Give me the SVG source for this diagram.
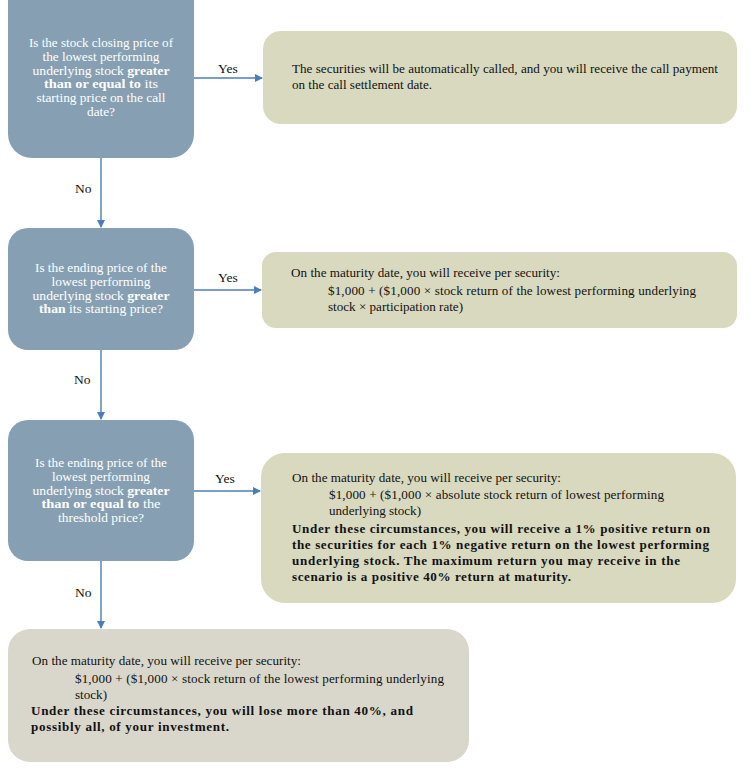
<svg xmlns="http://www.w3.org/2000/svg" width="753" height="776" viewBox="0 0 753 776">
<style>
.q{fill:#869fb3}
.g{fill:#d9d9bf}
.f{fill:#d9d7cb}
.t{font-family:"Liberation Serif",serif;font-size:13.1px;fill:#111}
.w{font-family:"Liberation Serif",serif;font-size:11.6px;fill:#fff;text-anchor:middle}
.b{font-weight:bold}
.c{stroke:#4a7ebb;stroke-width:1.4;fill:none}
.l{font-family:"Liberation Serif",serif;font-size:13.5px;fill:#111}
</style>
<defs>
<marker id="ah" markerWidth="8" markerHeight="8" refX="7" refY="4" orient="auto" markerUnits="userSpaceOnUse">
<path d="M0,0 L8,4 L0,8 z" fill="#4a7ebb"/>
</marker>
</defs>
<rect width="753" height="776" fill="#fff"/>
<g id="connectors">
<path class="c" d="M194,78 H262" marker-end="url(#ah)"/>
<path class="c" d="M194,290 H261" marker-end="url(#ah)"/>
<path class="c" d="M194,491 H260" marker-end="url(#ah)"/>
<path class="c" d="M101,158 V227" marker-end="url(#ah)"/>
<path class="c" d="M101,350 V419" marker-end="url(#ah)"/>
<path class="c" d="M101,561 V628" marker-end="url(#ah)"/>
<text class="l" x="218" y="73">Yes</text>
<text class="l" x="218" y="282">Yes</text>
<text class="l" x="215" y="483">Yes</text>
<text class="l" x="75" y="193">No</text>
<text class="l" x="74" y="384">No</text>
<text class="l" x="75" y="597">No</text>
</g>
<g id="q1">
<rect class="q" x="8" y="-25" width="186" height="183" rx="24"/>
<text class="w" x="101" y="47" textLength="144" lengthAdjust="spacingAndGlyphs">Is the stock closing price of</text>
<text class="w" x="101" y="60.8" textLength="117" lengthAdjust="spacingAndGlyphs">the lowest performing</text>
<text class="w" x="101" y="74.6" textLength="137" lengthAdjust="spacingAndGlyphs">underlying stock <tspan class="b">greater</tspan></text>
<text class="w" x="101" y="88.4" textLength="114" lengthAdjust="spacingAndGlyphs"><tspan class="b">than or equal to</tspan> its</text>
<text class="w" x="101" y="102.2" textLength="129" lengthAdjust="spacingAndGlyphs">starting price on the call</text>
<text class="w" x="101" y="116" textLength="28" lengthAdjust="spacingAndGlyphs">date?</text>
</g>
<g id="a1">
<rect class="g" x="263" y="31" width="474" height="93" rx="18"/>
<text class="t" x="292" y="73" textLength="426">The securities will be automatically called, and you will receive the call payment</text>
<text class="t" x="292" y="89">on the call settlement date.</text>
</g>
<g id="q2">
<rect class="q" x="8" y="228" width="186" height="122" rx="20"/>
<text class="w" x="101" y="272" textLength="132" lengthAdjust="spacingAndGlyphs">Is the ending price of the</text>
<text class="w" x="101" y="285.8" textLength="99" lengthAdjust="spacingAndGlyphs">lowest performing</text>
<text class="w" x="101" y="299.6" textLength="137" lengthAdjust="spacingAndGlyphs">underlying stock <tspan class="b">greater</tspan></text>
<text class="w" x="101" y="313.4" textLength="124" lengthAdjust="spacingAndGlyphs"><tspan class="b">than</tspan> its starting price?</text>
</g>
<g id="a2">
<rect class="g" x="262" y="252" width="475" height="76" rx="14"/>
<text class="t" x="291" y="277" textLength="269">On the maturity date, you will receive per security:</text>
<text class="t" x="328" y="295" textLength="368">$1,000 + ($1,000 × stock return of the lowest performing underlying</text>
<text class="t" x="328" y="311">stock × participation rate)</text>
</g>
<g id="q3">
<rect class="q" x="8" y="420" width="186" height="141" rx="20"/>
<text class="w" x="101" y="467" textLength="132" lengthAdjust="spacingAndGlyphs">Is the ending price of the</text>
<text class="w" x="101" y="480.8" textLength="98" lengthAdjust="spacingAndGlyphs">lowest performing</text>
<text class="w" x="101" y="494.6" textLength="137" lengthAdjust="spacingAndGlyphs">underlying stock <tspan class="b">greater</tspan></text>
<text class="w" x="101" y="508.4" textLength="119" lengthAdjust="spacingAndGlyphs"><tspan class="b">than or equal to</tspan> the</text>
<text class="w" x="101" y="522.2" textLength="86" lengthAdjust="spacingAndGlyphs">threshold price?</text>
</g>
<g id="a3">
<rect class="g" x="261" y="453" width="475" height="150" rx="24"/>
<text class="t" x="292" y="482" textLength="269">On the maturity date, you will receive per security:</text>
<text class="t" x="329" y="499" textLength="335">$1,000 + ($1,000 × absolute stock return of lowest performing</text>
<text class="t" x="329" y="515">underlying stock)</text>
<text class="t b" x="292" y="533" textLength="418">Under these circumstances, you will receive a 1% positive return on</text>
<text class="t b" x="292" y="549" textLength="417">the securities for each 1% negative return on the lowest performing</text>
<text class="t b" x="292" y="565" textLength="388">underlying stock. The maximum return you may receive in the</text>
<text class="t b" x="292" y="581" textLength="279">scenario is a positive 40% return at maturity.</text>
</g>
<g id="a4">
<rect class="f" x="8" y="629" width="461" height="133" rx="22"/>
<text class="t" x="32" y="665" textLength="269">On the maturity date, you will receive per security:</text>
<text class="t" x="75" y="683" textLength="369">$1,000 + ($1,000 × stock return of the lowest performing underlying</text>
<text class="t" x="75" y="698.5">stock)</text>
<text class="t b" x="31" y="715" textLength="382">Under these circumstances, you will lose more than 40%, and</text>
<text class="t b" x="31" y="731" textLength="198">possibly all, of your investment.</text>
</g>
</svg>
